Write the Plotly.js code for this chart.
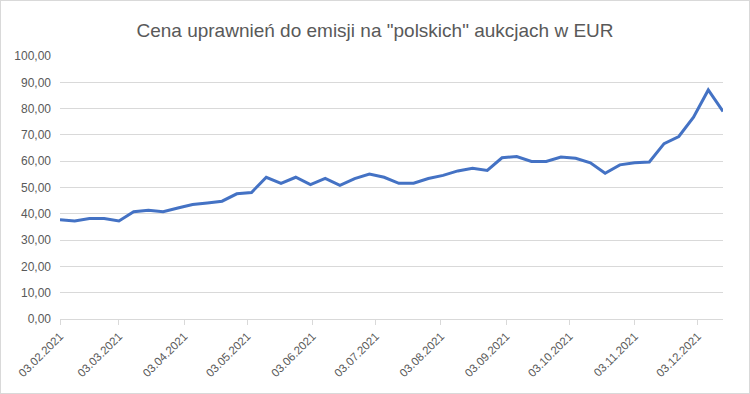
<!DOCTYPE html>
<html>
<head>
<meta charset="utf-8">
<script src="https://cdn.plot.ly/plotly-3.0.1.min.js"></script>
<style>
html, body { margin: 0; padding: 0; background: #fff; }
#chart { width: 750px; height: 394px; box-sizing: border-box; border: 1px solid #d9d9d9; }
</style>
</head>
<body>
<div id="chart"></div>
<script>
// Weekly auction dates (Wednesdays)
const dates = [
  '2021-02-03','2021-02-10','2021-02-17','2021-02-24','2021-03-03','2021-03-10','2021-03-17','2021-03-24',
  '2021-03-31','2021-04-07','2021-04-14','2021-04-21','2021-04-28','2021-05-05','2021-05-12','2021-05-19',
  '2021-05-26','2021-06-02','2021-06-09','2021-06-16','2021-06-23','2021-06-30','2021-07-07','2021-07-14',
  '2021-07-21','2021-07-28','2021-08-04','2021-08-11','2021-08-18','2021-08-25','2021-09-01','2021-09-08',
  '2021-09-15','2021-09-22','2021-09-29','2021-10-06','2021-10-13','2021-10-20','2021-10-27','2021-11-03',
  '2021-11-10','2021-11-17','2021-11-24','2021-12-01','2021-12-08','2021-12-15'
];
// Price in EUR
const prices = [
  37.7, 37.3, 38.2, 38.2, 37.3, 40.8, 41.3, 40.8,
  42.2, 43.5, 44.1, 44.8, 47.6, 48.1, 53.9, 51.6,
  53.9, 51.1, 53.5, 50.8, 53.4, 55.1, 53.9, 51.6,
  51.6, 53.4, 54.6, 56.3, 57.3, 56.5, 61.3, 61.8,
  59.9, 59.9, 61.6, 61.1, 59.4, 55.4, 58.6, 59.4,
  59.7, 66.7, 69.4, 76.7, 87.1, 78.9
];
const tickDates = ['2021-02-03','2021-03-03','2021-04-03','2021-05-03','2021-06-03','2021-07-03',
  '2021-08-03','2021-09-03','2021-10-03','2021-11-03','2021-12-03'];
const tickLabels = ['03.02.2021','03.03.2021','03.04.2021','03.05.2021','03.06.2021','03.07.2021',
  '03.08.2021','03.09.2021','03.10.2021','03.11.2021','03.12.2021'];
const titleText = 'Cena uprawnień do emisji na "polskich" aukcjach w EUR';

const font = 'Liberation Sans, Arial, sans-serif';
const trace = {
  x: dates, y: prices, type: 'scatter', mode: 'lines',
  line: { color: '#4472C4', width: 3 },
  hoverinfo: 'skip'
};
const layout = {
  width: 748, height: 392,
  margin: { l: 59, r: 26, t: 55, b: 74, autoexpand: false },
  paper_bgcolor: '#ffffff', plot_bgcolor: '#ffffff',
  separators: ', ',
  showlegend: false,
  font: { family: font, color: '#595959', size: 12 },
  title: {
    text: titleText, font: { family: font, size: 19, color: '#595959' },
    automargin: false,
    x: 0.5, xanchor: 'center', xref: 'container',
    y: 1 - 29 / 392, yref: 'container', yanchor: 'middle'
  },
  xaxis: {
    type: 'date', range: ['2021-02-03', '2021-12-15'],
    automargin: false,
    tickmode: 'array', tickvals: tickDates, ticktext: tickLabels,
    tickangle: -45, ticks: 'outside', ticklen: 5, tickcolor: '#d9d9d9',
    showline: true, linecolor: '#d9d9d9', linewidth: 1,
    showgrid: false, zeroline: false,
    tickfont: { size: 11.5, color: '#595959', family: font }
  },
  yaxis: {
    range: [0, 100], dtick: 10, tick0: 0, tickformat: '.2f',
    automargin: false,
    showgrid: true, gridcolor: '#d9d9d9', gridwidth: 1,
    zeroline: false, showline: false, ticks: '',
    ticklabelstandoff: 8,
    tickfont: { size: 12, color: '#595959', family: font }
  }
};
Plotly.newPlot('chart', [trace], layout, { displayModeBar: false, staticPlot: true });
</script>
</body>
</html>
